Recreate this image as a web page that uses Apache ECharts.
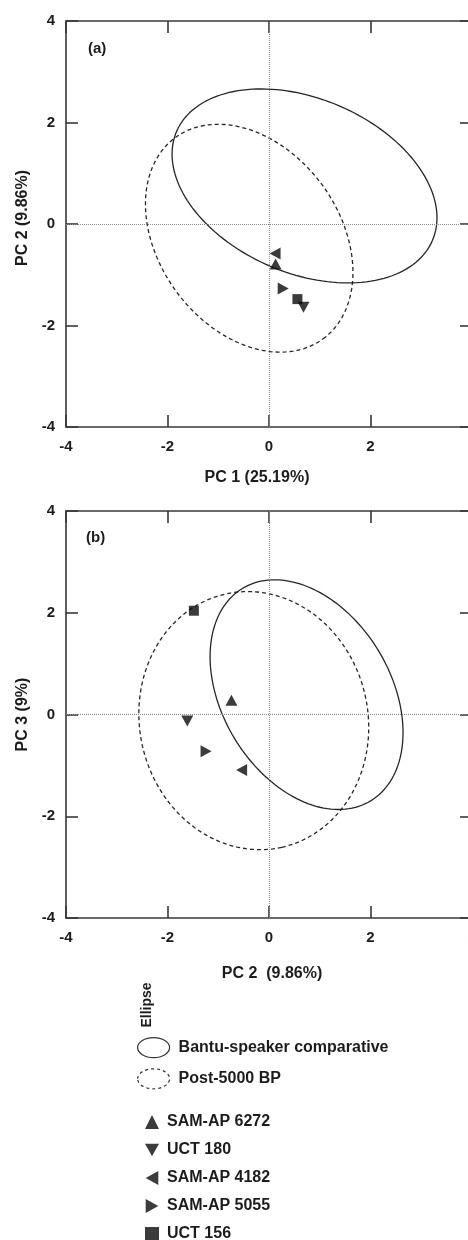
<!DOCTYPE html>
<html>
<head>
<meta charset="utf-8">
<script src="https://cdn.jsdelivr.net/npm/echarts@6/dist/echarts.min.js"></script>
<style>
  html, body { margin: 0; padding: 0; background: #ffffff; }
  #chart { width: 468px; height: 1240px; }
</style>
</head>
<body>
<div id="chart"></div>
<script>
// ---- data ----
const samples = ['SAM-AP 6272', 'UCT 180', 'SAM-AP 4182', 'SAM-AP 5055', 'UCT 156'];
// panel (a): PC1 vs PC2
const panelA_pc1 = [0.13, 0.68, 0.12, 0.28, 0.56];
const panelA_pc2 = [-0.79, -1.64, -0.58, -1.27, -1.48];
// panel (b): PC2 vs PC3
const panelB_pc2 = [-0.74, -1.61, -0.54, -1.24, -1.48];
const panelB_pc3 = [0.28, -0.13, -1.09, -0.72, 2.04];
// ellipses: [centerX, centerY, semiMajor, semiMinor, angleDeg]
const ellipseNames = ['Bantu-speaker comparative', 'Post-5000 BP'];
const ellipseA = [[0.70, 0.75, 2.74, 1.72, -23], [-0.39, -0.28, 2.46, 1.78, -53.7]];
const ellipseB = [[0.74, 0.39, 2.44, 1.66, -58.8], [-0.30, -0.12, 2.55, 2.25, -77.5]];
const axisTicks = [-4, -2, 0, 2, 4];
const axisNames = { aX: 'PC 1 (25.19%)', aY: 'PC 2 (9.86%)', bX: 'PC 2  (9.86%)', bY: 'PC 3 (9%)' };
const panelLabels = ['(a)', '(b)'];

// ---- styling ----
const FONT = 'Liberation Sans, Arial, Helvetica, sans-serif';
const frameColor = '#383838';
const inkColor = '#1c1c1c';
const symbols = ['triangle', 'path://M0,0L10,0L5,9Z', 'path://M9,0L9,10L0,5Z', 'path://M0,0L0,10L9,5Z', 'rect'];
const symbolSizes = [[12, 11], [12, 11], [11, 12], [11, 12], [10, 10]];

const chart = echarts.init(document.getElementById('chart'), null, { renderer: 'canvas' });

const tickMin = axisTicks[0], tickMax = axisTicks[axisTicks.length - 1];
const tickStep = axisTicks[1] - axisTicks[0];

function valueAxis(gridIndex, position, showLabel, name, nameGap, namePad) {
  const isX = position === 'bottom' || position === 'top';
  return {
    type: 'value', gridIndex: gridIndex, position: position,
    min: tickMin, max: tickMax, interval: tickStep,
    name: name || '', nameLocation: 'middle', nameGap: nameGap || 0,
    nameTextStyle: { fontFamily: FONT, fontSize: 16, fontWeight: 'bold', color: inkColor, padding: namePad || 0 },
    axisLine: { show: true, onZero: false, lineStyle: { color: frameColor, width: 1.6 } },
    axisTick: { show: true, inside: true, length: 12, lineStyle: { color: frameColor, width: 1.6 } },
    axisLabel: { show: showLabel, fontFamily: FONT, fontSize: 15, fontWeight: 'bold', color: inkColor, margin: isX ? 12 : 11 },
    splitLine: { show: false }
  };
}

function renderEllipse(params, api) {
  const cx = api.value(0), cy = api.value(1), a = api.value(2), b = api.value(3);
  const ang = api.value(4) * Math.PI / 180;
  const pts = [];
  const n = 160;
  for (let i = 0; i < n; i++) {
    const t = 2 * Math.PI * i / n;
    const ex = a * Math.cos(t), ey = b * Math.sin(t);
    pts.push(api.coord([cx + ex * Math.cos(ang) - ey * Math.sin(ang), cy + ex * Math.sin(ang) + ey * Math.cos(ang)]));
  }
  const dashed = params.seriesName === ellipseNames[1];
  return {
    type: 'polygon', shape: { points: pts },
    style: { fill: 'none', stroke: '#262626', lineWidth: 1.3, lineDash: dashed ? [4, 3] : null }
  };
}

const zeroLines = {
  silent: true, symbol: ['none', 'none'], label: { show: false },
  lineStyle: { type: 'dotted', color: '#8a8a8a', width: 1 },
  emphasis: { disabled: true },
  data: [{ xAxis: 0 }, { yAxis: 0 }]
};

const series = [];
[[ellipseA, 0, 0], [ellipseB, 2, 2]].forEach(function (g) {
  const ell = g[0], xi = g[1], yi = g[2];
  ell.forEach(function (e, k) {
    series.push({
      type: 'custom', name: ellipseNames[k], xAxisIndex: xi, yAxisIndex: yi,
      renderItem: renderEllipse, silent: true,
      encode: { x: 0, y: 1 },
      data: [e], z: 2
    });
  });
});
[[panelA_pc1, panelA_pc2, 0], [panelB_pc2, panelB_pc3, 2]].forEach(function (g) {
  const xs = g[0], ys = g[1], ai = g[2];
  samples.forEach(function (s, i) {
    const sr = {
      type: 'scatter', name: s, xAxisIndex: ai, yAxisIndex: ai,
      symbol: symbols[i], symbolSize: symbolSizes[i],
      itemStyle: { color: '#0a0a0a' },
      data: [[xs[i], ys[i]]], z: 5
    };
    if (i === 0) sr.markLine = zeroLines;
    series.push(sr);
  });
});

const ellipseIcon = 'path://M0,10A16,10 0 1,1 32,10A16,10 0 1,1 0,10Z';

const option = {
  backgroundColor: '#ffffff',
  animation: false,
  textStyle: { fontFamily: FONT },
  grid: [
    { left: 66, top: 21, width: 406, height: 406, containLabel: false, outerBoundsMode: 'none' },
    { left: 66, top: 511, width: 406, height: 407, containLabel: false, outerBoundsMode: 'none' }
  ],
  xAxis: [
    valueAxis(0, 'bottom', true, axisNames.aX, 43, [0, 24, 0, 0]),
    valueAxis(0, 'top', false),
    valueAxis(1, 'bottom', true, axisNames.bX, 48, [0, 0, 0, 6]),
    valueAxis(1, 'top', false)
  ],
  yAxis: [
    valueAxis(0, 'left', true, axisNames.aY, 31, [0, 0, 0, 12]),
    valueAxis(0, 'right', false),
    valueAxis(1, 'left', true, axisNames.bY, 31),
    valueAxis(1, 'right', false)
  ],
  legend: [
    {
      orient: 'vertical', left: 132, top: 1032, height: 80, itemWidth: 32, itemHeight: 20, itemGap: 10,
      selectedMode: false,
      textStyle: { fontFamily: FONT, fontSize: 16, fontWeight: 'bold', color: inkColor, padding: [0, 0, 0, 4] },
      data: [
        { name: ellipseNames[0], icon: ellipseIcon, itemStyle: { color: 'rgba(0,0,0,0)', borderColor: '#333', borderWidth: 1.2, borderType: 'solid' } },
        { name: ellipseNames[1], icon: ellipseIcon, itemStyle: { color: 'rgba(0,0,0,0)', borderColor: '#333', borderWidth: 1.2, borderType: [3, 3] } }
      ]
    },
    {
      orient: 'vertical', left: 140, top: 1109, height: 300, itemWidth: 14, itemHeight: 14, itemGap: 12,
      selectedMode: false,
      textStyle: { fontFamily: FONT, fontSize: 16, fontWeight: 'bold', color: inkColor, lineHeight: 16, padding: [0, 0, 0, 3] },
      data: samples.map(function (s) { return { name: s }; })
    }
  ],
  graphic: [
    { type: 'text', left: 88, top: 41, style: { text: panelLabels[0], font: 'bold 15px ' + FONT, fill: inkColor } },
    { type: 'text', left: 86, top: 530, style: { text: panelLabels[1], font: 'bold 15px ' + FONT, fill: inkColor } },
    { type: 'text', x: 147, y: 1005, rotation: Math.PI / 2,
      style: { text: 'Ellipse', font: 'bold 14px ' + FONT, fill: inkColor, align: 'center', verticalAlign: 'middle' } }
  ],
  series: series
};

chart.setOption(option);
</script>
</body>
</html>
